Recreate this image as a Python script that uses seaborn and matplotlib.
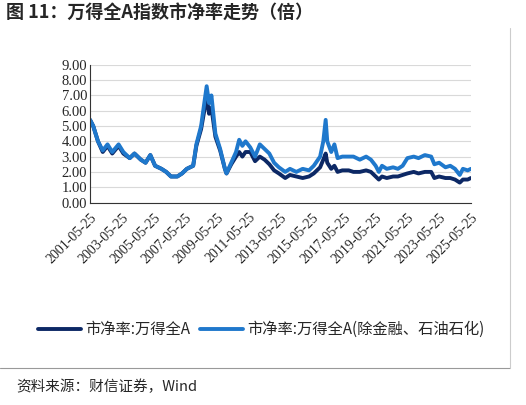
import pandas as pd
import numpy as np
import matplotlib
matplotlib.use('Agg')
import matplotlib.pyplot as plt
import seaborn as sns
from matplotlib.lines import Line2D

# data (fractional year, PB of both indices)
years = [2001.4, 2001.6, 2001.9, 2002.2, 2002.5, 2002.8, 2003.2, 2003.5, 2003.9, 2004.2,
         2004.6, 2004.9, 2005.2, 2005.5, 2005.9, 2006.2, 2006.5, 2006.9, 2007.2, 2007.5,
         2007.9, 2008.1, 2008.4, 2008.6, 2008.75, 2008.9, 2009.05, 2009.3, 2009.6, 2009.9,
         2010.0, 2010.3, 2010.6, 2010.8, 2011.0, 2011.2, 2011.5, 2011.8, 2012.1, 2012.4,
         2012.7, 2013.0, 2013.3, 2013.7, 2014.0, 2014.4, 2014.8, 2015.2, 2015.5, 2015.9,
         2016.1, 2016.25, 2016.35, 2016.6, 2016.8, 2017.0, 2017.3, 2017.7, 2018.0, 2018.4,
         2018.8, 2019.1, 2019.4, 2019.6, 2019.8, 2020.1, 2020.5, 2020.8, 2021.1, 2021.4,
         2021.8, 2022.1, 2022.5, 2022.9, 2023.1, 2023.4, 2023.8, 2024.1, 2024.4, 2024.7,
         2024.9, 2025.2, 2025.4]
pb_ex = [5.4, 5.0, 4.0, 3.4, 3.8, 3.3, 3.8, 3.3, 2.9, 3.2,
         2.8, 2.6, 3.1, 2.4, 2.2, 2.0, 1.7, 1.7, 1.9, 2.2,
         2.4, 3.8, 5.0, 6.5, 7.6, 6.5, 7.0, 4.5, 3.5, 2.2,
         1.9, 2.6, 3.3, 4.1, 3.7, 4.0, 3.6, 3.0, 3.8, 3.5,
         3.2, 2.6, 2.3, 2.0, 2.2, 2.0, 2.2, 2.1, 2.4, 3.0,
         4.0, 5.4, 4.0, 3.3, 3.8, 2.9, 3.0, 3.0, 3.0, 2.8,
         3.0, 2.8, 2.4, 2.0, 2.4, 2.2, 2.3, 2.2, 2.4, 2.9,
         3.0, 2.9, 3.1, 3.0, 2.5, 2.6, 2.3, 2.4, 2.2, 1.8,
         2.2, 2.1, 2.2]
pb_all = [5.4, 5.0, 4.0, 3.3, 3.7, 3.2, 3.7, 3.2, 2.9, 3.2,
          2.8, 2.6, 3.1, 2.4, 2.2, 2.0, 1.7, 1.7, 1.9, 2.2,
          2.4, 3.7, 4.8, 6.0, 6.9, 5.8, 6.2, 4.3, 3.4, 2.2,
          1.9, 2.5, 3.0, 3.3, 3.0, 3.3, 3.3, 2.7, 3.0, 2.8,
          2.5, 2.1, 1.9, 1.6, 1.8, 1.7, 1.6, 1.7, 1.9, 2.3,
          2.8, 3.2, 2.6, 2.2, 2.4, 2.0, 2.1, 2.1, 2.0, 2.0,
          2.1, 2.0, 1.7, 1.5, 1.7, 1.6, 1.7, 1.7, 1.8, 1.9,
          2.0, 1.9, 2.0, 2.0, 1.6, 1.7, 1.6, 1.6, 1.5, 1.3,
          1.5, 1.5, 1.6]

dates = pd.to_datetime('2001-01-01') + pd.to_timedelta((np.array(years) - 2001) * 365.25, unit='D')
df = pd.DataFrame({'date': dates, 'all': pb_all, 'ex': pb_ex})

sns.set_style('white')
plt.rcParams['font.family'] = ['Noto Sans CJK SC', 'DejaVu Sans']

fig = plt.figure(figsize=(5.26, 4.05), dpi=100)
ax = fig.add_axes([0.171, 0.5, 0.724, 0.34])

sns.lineplot(x='date', y='all', data=df, ax=ax, color='#0c2865', lw=2.8, label='市净率:万得全A')
sns.lineplot(x='date', y='ex', data=df, ax=ax, color='#1f78cc', lw=2.8, label='市净率:万得全A(除金融、石油石化)')
ax.set_ylim(0, 9)
ax.set_yticks(np.arange(0, 9.5, 1))
ax.set_yticklabels([f'{v:.2f}' for v in np.arange(0, 9.5, 1)], family='Liberation Serif', fontsize=10.5)
ticks = pd.date_range('2001-05-25', '2025-05-25', freq=pd.DateOffset(years=2))
ax.set_xticks(ticks)
ax.set_xticklabels([t.strftime('%Y-%m-%d') for t in ticks], rotation=45, ha='right',
                   rotation_mode='anchor', family='Liberation Serif', fontsize=10)
ax.set_xlim(ticks[0], ticks[-1])
ax.yaxis.grid(True, color='#d9d9d9', lw=0.8)
ax.tick_params(axis='x', direction='out', length=4, pad=2)
ax.tick_params(axis='y', length=0, pad=2)
for s in ['top', 'right']:
    ax.spines[s].set_visible(False)
for s in ['left', 'bottom']:
    ax.spines[s].set_color('#333333')
    ax.spines[s].set_linewidth(0.8)
ax.set_xlabel('')
ax.set_ylabel('')
ax.legend(loc='upper center', bbox_to_anchor=(0.45, -0.76), ncol=2, frameon=False,
          fontsize=11, handlelength=2.8, columnspacing=0.6, handletextpad=0.3)

fig.text(0.012, 0.955, '图 11：万得全A指数市净率走势（倍）', fontsize=13, fontweight='bold')
fig.text(0.03, 0.035, '资料来源：财信证券，Wind', fontsize=10.5, style='italic')
fig.add_artist(Line2D([0.0, 0.97], [0.092, 0.092], color='#999999', lw=0.8))
fig.add_artist(Line2D([0.97, 0.97], [0.092, 0.93], color='#cccccc', lw=0.8))

fig.savefig('out.png', dpi=100)
